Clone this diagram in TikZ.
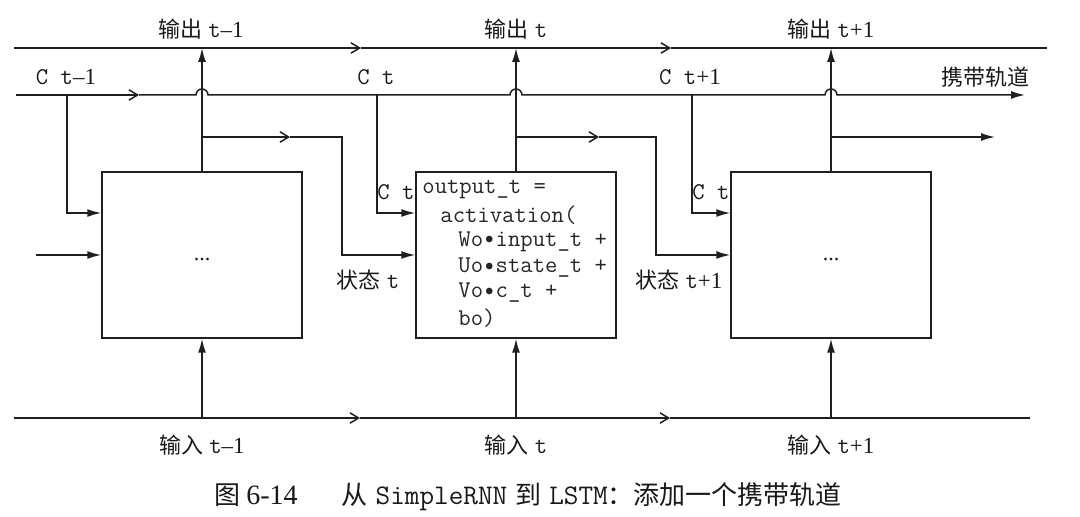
\documentclass[tikz,border=0pt]{standalone}
\usepackage{fontspec}
\setmainfont{Liberation Serif}
\newfontfamily\cjk{Noto Sans CJK SC}
\usetikzlibrary{arrows.meta}
\newcommand\mylab[3]{{\cjk #1}\hspace{3pt}{\fontsize{12pt}{14pt}\selectfont\ttfamily #2}{\fontsize{11.5pt}{14pt}\selectfont #3}}
\newcommand\cvar[1]{{\fontsize{12pt}{14pt}\selectfont\ttfamily C t}{\fontsize{11.5pt}{14pt}\selectfont #1}}
\newcommand\dotop{\makebox[0.525em]{\raisebox{0.12em}{$\scriptstyle\bullet$}}}
\tikzset{
  ln/.style={line width=0.75pt, draw=black!88},
  fa/.style={-{Latex[length=7pt,width=4pt]}},
  oa/.style={-{Straight Barb[length=4.3pt,width=5.2pt,line width=0.75pt]}},
  box/.style={draw=black!88, line width=0.75pt, minimum width=100pt, minimum height=83pt, inner sep=0pt},
  lab/.style={font=\fontsize{11pt}{13pt}\selectfont, text=black!90, inner sep=0pt},
  code/.style={font=\fontsize{12pt}{14pt}\selectfont\ttfamily, text=black!85, inner sep=0pt, anchor=west},
}
\begin{document}
\begin{tikzpicture}[x=0.5pt,y=-0.5pt]
\useasboundingbox (0,0) rectangle (1080,517);
% boxes
\node[box] (b1) at (202,255) {};
\node[box] (b2) at (516,255) {};
\node[box] (b3) at (831,255) {};
\node[lab] (d1) at (202,260) {...};
\node[lab] (d3) at (831,260) {...};
% code in box 2
\node[code] (c1) at (422,190) {output\_t =};
\node[code] (c2) at (440,215) {activation(};
\node[code] (c3) at (458,242) {Wo\dotop input\_t +};
\node[code] (c4) at (458,268) {Uo\dotop state\_t +};
\node[code] (c5) at (458,293) {Vo\dotop c\_t +};
\node[code] (c6) at (458,318) {bo)};
% coordinates
\coordinate (os) at (14,48);
\coordinate (oa1) at (361,48);
\coordinate (oa2) at (671,48);
\coordinate (oe) at (1047,48);
\coordinate (o1) at (202,48);
\coordinate (o2) at (516,48);
\coordinate (o3) at (831,48);
\coordinate (cs) at (16,95);
\coordinate (ca) at (139,95);
\coordinate (ce) at (1025,95);
\coordinate (is) at (14,418);
\coordinate (ia1) at (360,418);
\coordinate (ia2) at (670,418);
\coordinate (ie) at (1030,418);
\coordinate (i1) at (202,418);
\coordinate (i2) at (516,418);
\coordinate (i3) at (831,418);
\coordinate (lin) at (36,255);
% output line
\draw[ln,oa] (os) -- (oa1);
\draw[ln,oa] (oa1) -- (oa2);
\draw[ln] (oa2) -- (oe);
% outputs up
\draw[ln,fa] (b1.north) -- (o1);
\draw[ln,fa] (b2.north) -- (o2);
\draw[ln,fa] (b3.north) -- (o3);
% carry line with hops
\draw[ln,oa] (cs) -- (ca);
\draw[ln,fa] (ca) -- (196,95) arc[start angle=180,end angle=0,radius=3pt]
   -- (510,95) arc[start angle=180,end angle=0,radius=3pt]
   -- (825,95) arc[start angle=180,end angle=0,radius=3pt] -- (ce);
% carry taps
\draw[ln,fa] (67,95) |- (b1.west |- 0,213);
\draw[ln,fa] (377,95) |- (b2.west |- 0,213);
\draw[ln,fa] (692,95) |- (b3.west |- 0,213);
% state connectors
\draw[ln,oa] (202,137) -- (290,137);
\draw[ln,fa] (290,137) -- (342,137) |- (b2.west);
\draw[ln,oa] (516,137) -- (599,137);
\draw[ln,fa] (599,137) -- (656,137) |- (b3.west);
\draw[ln,fa] (831,137) -- (995,137);
\draw[ln,fa] (lin) -- (b1.west);
% input line
\draw[ln,oa] (is) -- (ia1);
\draw[ln,oa] (ia1) -- (ia2);
\draw[ln] (ia2) -- (ie);
\draw[ln,fa] (i1) -- (b1.south);
\draw[ln,fa] (i2) -- (b2.south);
\draw[ln,fa] (i3) -- (b3.south);
% labels
\node[lab] (lo1) at (201,29) {\mylab{输出}{t}{–1}};
\node[lab] (lo2) at (516,29) {\mylab{输出}{t}{}};
\node[lab] (lo3) at (831,29) {\mylab{输出}{t}{+1}};
\node[lab] (lc1) at (66,77) {\cvar{–1}};
\node[lab] (lc2) at (376,77) {\cvar{}};
\node[lab] (lc3) at (690,77) {\cvar{+1}};
\node[lab] (lcar) at (985,77) {\cjk 携带轨道};
\node[lab] (lc2i) at (396,192) {\cvar{}};
\node[lab] (lc3i) at (711,192) {\cvar{}};
\node[lab] (ls2) at (368,280) {\mylab{状态}{t}{}};
\node[lab] (ls3) at (679,280) {\mylab{状态}{t}{+1}};
\node[lab] (li1) at (202,445) {\mylab{输入}{t}{–1}};
\node[lab] (li2) at (516,445) {\mylab{输入}{t}{}};
\node[lab] (li3) at (831,445) {\mylab{输入}{t}{+1}};
% caption
\node[lab,anchor=west,font=\fontsize{13pt}{15pt}\selectfont] (cap) at (214,497)
  {{\cjk 图}\hspace{3pt}{\fontsize{14pt}{15pt}\selectfont 6-14}\hspace{22pt}{\cjk 从}\hspace{4pt}{\fontsize{14.2pt}{15pt}\selectfont\ttfamily SimpleRNN}\hspace{4pt}{\cjk 到}\hspace{4pt}{\fontsize{14.2pt}{15pt}\selectfont\ttfamily LSTM}{\cjk ：添加一个携带轨道}};
\end{tikzpicture}
\end{document}
